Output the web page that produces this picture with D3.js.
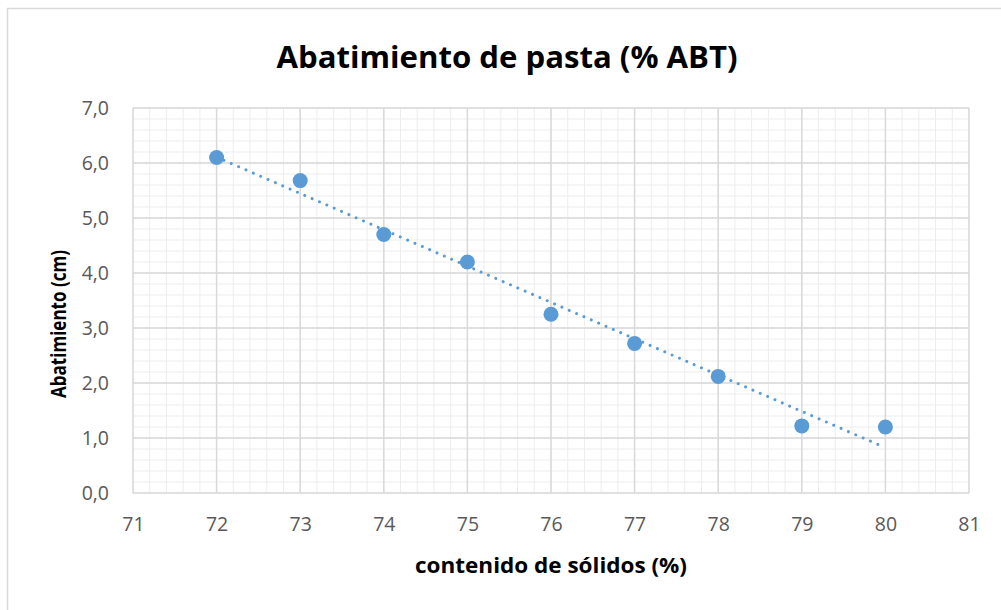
<!DOCTYPE html>
<html>
<head>
<meta charset="utf-8">
<script src="https://cdn.jsdelivr.net/npm/d3@7"></script>
<style>
  body { margin: 0; background: #fff; }
  svg { display: block; }
  text { font-family: "Open Sans", "Liberation Sans", sans-serif; }
</style>
</head>
<body>
<svg id="chart" width="1001" height="610"></svg>
<script>
// values
const solids = [72, 73, 74, 75, 76, 77, 78, 79, 80];
const slump = [6.1, 5.68, 4.7, 4.2, 3.25, 2.72, 2.12, 1.22, 1.2];
const xTicks = [71, 72, 73, 74, 75, 76, 77, 78, 79, 80, 81];
const yTicks = [0, 1, 2, 3, 4, 5, 6, 7];

const svg = d3.select("#chart");
const width = +svg.attr("width");
const height = +svg.attr("height");

// chart frame
svg.append("rect")
    .attr("x", 7.5).attr("y", 8.5)
    .attr("width", width).attr("height", height)
    .attr("fill", "#fff")
    .attr("stroke", "#d9d9d9")
    .attr("stroke-width", 1.5);

const plot = { left: 133, right: 969, top: 108, bottom: 493 };

const x = d3.scaleLinear().domain([71, 81]).range([plot.left, plot.right]);
const y = d3.scaleLinear().domain([0, 7]).range([plot.bottom, plot.top]);

const grid = svg.append("g").attr("class", "grid");

// minor gridlines every 0.2
const xMinor = d3.range(71, 81.001, 0.2);
const yMinor = d3.range(0, 7.001, 0.2);

grid.selectAll("line.xminor")
    .data(xMinor)
    .join("line")
    .attr("class", "xminor")
    .attr("x1", d => x(d)).attr("x2", d => x(d))
    .attr("y1", plot.top).attr("y2", plot.bottom)
    .attr("stroke", "#ededed").attr("stroke-width", 1);

grid.selectAll("line.yminor")
    .data(yMinor)
    .join("line")
    .attr("class", "yminor")
    .attr("x1", plot.left).attr("x2", plot.right)
    .attr("y1", d => y(d)).attr("y2", d => y(d))
    .attr("stroke", "#ededed").attr("stroke-width", 1);

// major gridlines
grid.selectAll("line.xmajor")
    .data(xTicks)
    .join("line")
    .attr("class", "xmajor")
    .attr("x1", d => x(d)).attr("x2", d => x(d))
    .attr("y1", plot.top).attr("y2", plot.bottom)
    .attr("stroke", "#d9d9d9").attr("stroke-width", 1.5);

grid.selectAll("line.ymajor")
    .data(yTicks)
    .join("line")
    .attr("class", "ymajor")
    .attr("x1", plot.left).attr("x2", plot.right)
    .attr("y1", d => y(d)).attr("y2", d => y(d))
    .attr("stroke", "#d9d9d9").attr("stroke-width", 1.5);

// axes labels (tick text only)
const xAxis = svg.append("g")
    .attr("transform", `translate(0,${plot.bottom})`)
    .call(d3.axisBottom(x).tickValues(xTicks).tickSize(0).tickPadding(24));

const yAxis = svg.append("g")
    .attr("transform", `translate(${plot.left},0)`)
    .call(d3.axisLeft(y).tickValues(yTicks).tickSize(0).tickPadding(24)
        .tickFormat(d => d3.format(".1f")(d).replace(".", ",")));

[xAxis, yAxis].forEach(axis => {
    axis.select(".domain").remove();
    axis.selectAll("text")
        .attr("fill", "#595959")
        .style("font-size", "19.5px")
        .style("font-family", "\"Open Sans\", sans-serif");
});

// linear trendline (least squares)
const meanX = d3.mean(solids);
const meanY = d3.mean(slump);
const slope = d3.sum(solids, (s, i) => (s - meanX) * (slump[i] - meanY)) /
    d3.sum(solids, s => (s - meanX) * (s - meanX));
const intercept = meanY - slope * meanX;
const trendEnds = [d3.min(solids), d3.max(solids) - 0.08];

svg.append("line")
    .attr("x1", x(trendEnds[0])).attr("y1", y(intercept + slope * trendEnds[0]))
    .attr("x2", x(trendEnds[1])).attr("y2", y(intercept + slope * trendEnds[1]))
    .attr("stroke", "#5b9bd5")
    .attr("stroke-width", 3)
    .attr("stroke-linecap", "round")
    .attr("stroke-dasharray", "0.01 8");

// data points
svg.append("g")
    .selectAll("circle")
    .data(solids)
    .join("circle")
    .attr("cx", d => x(d))
    .attr("cy", (d, i) => y(slump[i]))
    .attr("r", 7.5)
    .attr("fill", "#5b9bd5");

// titles
svg.append("text")
    .attr("x", 507).attr("y", 68)
    .attr("text-anchor", "middle")
    .attr("textLength", 461)
    .attr("lengthAdjust", "spacingAndGlyphs")
    .style("font-size", "30px")
    .style("font-weight", "bold")
    .attr("fill", "#000")
    .text("Abatimiento de pasta (% ABT)");

svg.append("text")
    .attr("transform", "translate(66,324) rotate(-90)")
    .attr("text-anchor", "middle")
    .attr("textLength", 148)
    .attr("lengthAdjust", "spacingAndGlyphs")
    .style("font-size", "22px")
    .style("font-weight", "bold")
    .attr("fill", "#000")
    .text("Abatimiento (cm)");

svg.append("text")
    .attr("x", 551).attr("y", 573)
    .attr("text-anchor", "middle")
    .attr("textLength", 272)
    .attr("lengthAdjust", "spacingAndGlyphs")
    .style("font-size", "22px")
    .style("font-weight", "bold")
    .attr("fill", "#000")
    .text("contenido de sólidos (%)");
</script>
</body>
</html>
